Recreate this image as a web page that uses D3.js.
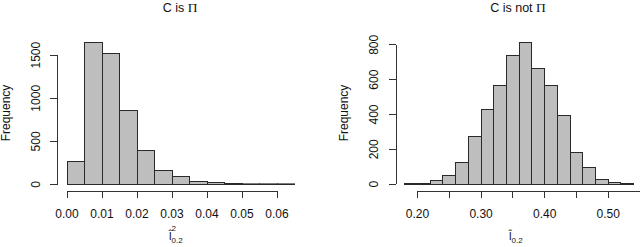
<!DOCTYPE html>
<html>
<head>
<meta charset="utf-8">
<script src="https://cdn.jsdelivr.net/npm/d3@7"></script>
<style>
  body { margin: 0; background: #fff; }
  svg { display: block; font-family: "Liberation Sans", Arial, sans-serif; }
  .axis path, .axis line { stroke: #333; stroke-width: 1; shape-rendering: crispEdges; }
  .axis text { fill: #111; font-size: 12px; font-family: "Liberation Sans", Arial, sans-serif; }
  .bar { fill: #bebebe; stroke: #2a2a2a; stroke-width: 1; }
</style>
</head>
<body>
<div id="chart"></div>
<script>
// left panel: C is Pi
const leftBreaks = [0, 0.005, 0.01, 0.015, 0.02, 0.025, 0.03, 0.035, 0.04, 0.045, 0.05, 0.055, 0.06, 0.065];
const leftCounts = [263, 1647, 1523, 858, 398, 166, 93, 31, 23, 8, 3, 2, 1];
const leftXTicks = [0, 0.01, 0.02, 0.03, 0.04, 0.05, 0.06];
const leftYTicks = [0, 500, 1000, 1500];

// right panel: C is not Pi
const rightBreaks = [0.18, 0.20, 0.22, 0.24, 0.26, 0.28, 0.30, 0.32, 0.34, 0.36, 0.38, 0.40, 0.42, 0.44, 0.46, 0.48, 0.50, 0.52, 0.54];
const rightCounts = [2, 5, 19, 50, 124, 276, 427, 568, 739, 811, 662, 564, 394, 184, 98, 25, 11, 3];
const rightXTicks = [0.20, 0.25, 0.30, 0.35, 0.40, 0.45, 0.50, 0.55];
const rightXLabels = [0.20, 0.30, 0.40, 0.50];
const rightYTicks = [0, 200, 400, 600, 800];

const titles = ['C is ', 'C is not '];

const svg = d3.select('#chart').append('svg')
  .attr('width', 640)
  .attr('height', 247);

const panels = [
  {
    breaks: leftBreaks, counts: leftCounts, title: titles[0], sup: '2',
    x: d3.scaleLinear().domain([0, 0.06]).range([66.5, 276.5]),
    y: d3.scaleLinear().domain([0, 1500]).range([184, 54.7]),
    xTicks: leftXTicks, xLabels: leftXTicks, yTicks: leftYTicks,
    titleX: 180, ylabX: 10, yAxisX: 57, xlabX: 169
  },
  {
    breaks: rightBreaks, counts: rightCounts, title: titles[1], sup: null,
    x: d3.scaleLinear().domain([0.2, 0.55]).range([417, 639.5]),
    y: d3.scaleLinear().domain([0, 800]).range([183.7, 44.3]),
    xTicks: rightXTicks, xLabels: rightXLabels, yTicks: rightYTicks,
    titleX: 518, ylabX: 348, yAxisX: 395.5, xlabX: 509
  }
];

panels.forEach(p => {
  const bins = p.counts.map((c, i) => ({x0: p.breaks[i], x1: p.breaks[i + 1], n: c}));
  const base = Math.round(p.y(0)) + 0.5;

  svg.append('g').selectAll('.bar')
    .data(bins)
    .enter().append('rect')
      .attr('class', 'bar')
      .attr('x', d => Math.round(p.x(d.x0)) + 0.5)
      .attr('y', d => Math.min(Math.round(p.y(d.n)) + 0.5, base - 0.6))
      .attr('width', d => Math.round(p.x(d.x1)) - Math.round(p.x(d.x0)))
      .attr('height', d => base - Math.min(Math.round(p.y(d.n)) + 0.5, base - 0.6));

  // x axis
  const xAxis = d3.axisBottom(p.x)
    .tickValues(p.xTicks)
    .tickSize(7)
    .tickSizeOuter(0)
    .tickFormat(v => p.xLabels.some(l => Math.abs(l - v) < 1e-9) ? d3.format('.2f')(v) : '');
  const gx = svg.append('g')
    .attr('class', 'axis')
    .attr('transform', 'translate(0,190.5)')
    .call(xAxis);
  gx.selectAll('text').attr('dy', null).attr('y', 27);

  // y axis
  const yAxis = d3.axisLeft(p.y)
    .tickValues(p.yTicks)
    .tickSize(7)
    .tickSizeOuter(0)
    .tickFormat(d3.format('d'));
  const gy = svg.append('g')
    .attr('class', 'axis')
    .attr('transform', 'translate(' + p.yAxisX + ',0)')
    .call(yAxis);
  gy.selectAll('text')
    .attr('x', null).attr('dy', null)
    .attr('text-anchor', 'middle')
    .attr('transform', 'translate(-17.5,0) rotate(-90)');

  // title
  const t = svg.append('text')
    .attr('x', p.titleX)
    .attr('y', 12)
    .attr('text-anchor', 'middle')
    .style('font-size', '12.5px')
    .attr('fill', '#111');
  t.append('tspan').text(p.title);
  t.append('tspan').style('font-family', '"Liberation Serif", "DejaVu Serif", serif').style('font-size', '13.5px').text('\u03A0');

  // y label
  svg.append('text')
    .attr('transform', 'translate(' + p.ylabX + ',113) rotate(-90)')
    .attr('text-anchor', 'middle')
    .style('font-size', '12px')
    .attr('fill', '#111')
    .text('Frequency');

  // x label: hat l with sub 0.2 (and sup 2 on the left panel)
  const xl = svg.append('text')
    .attr('x', p.xlabX)
    .attr('y', 240)
    .style('font-size', '11.5px')
    .attr('fill', '#111');
  xl.append('tspan').text('l\u0302');
  if (p.sup) {
    xl.append('tspan').attr('dy', -9).style('font-size', '8px').text(p.sup);
    xl.append('tspan').attr('dx', -4.5).attr('dy', 12).style('font-size', '8px').text('0.2');
  } else {
    xl.append('tspan').attr('dy', 3).style('font-size', '8px').text('0.2');
  }
});
</script>
</body>
</html>
